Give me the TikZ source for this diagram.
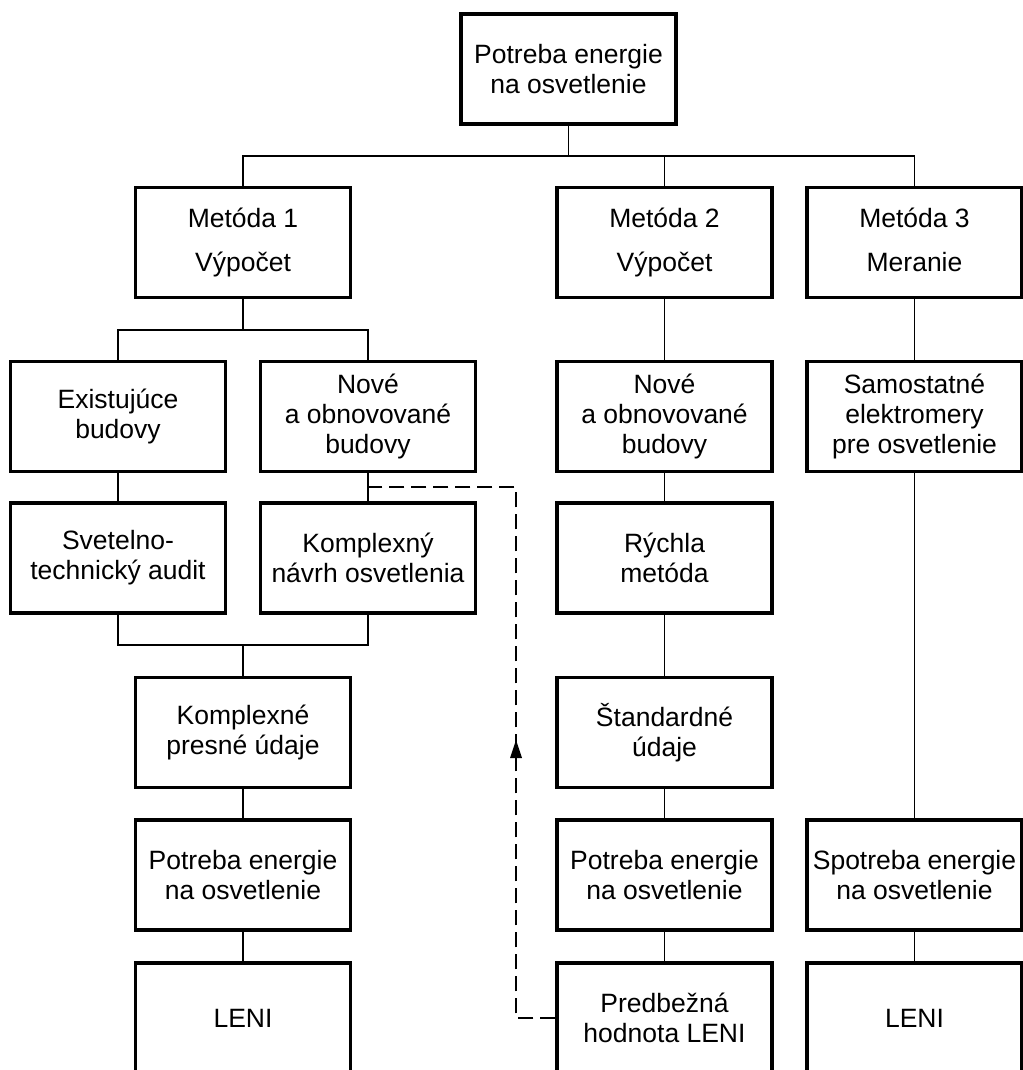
\documentclass[tikz,border=0pt]{standalone}
\usepackage{fontspec}
\setmainfont{Liberation Sans}
\usetikzlibrary{arrows.meta}
\begin{document}
\begin{tikzpicture}[x=1pt,y=-1pt,
  blk/.style={draw, line width=3.2pt, minimum width=215pt, minimum height=110pt,
    inner sep=0pt, align=center, font=\fontsize{26.5}{30}\selectfont},
  conn/.style={line width=1.7pt},
  dconn/.style={line width=1.7pt, dash pattern=on 15pt off 7pt},
]
\useasboundingbox (0,0) rectangle (1022,1070);

\node[blk] (top) at (568.5,69) {Potreba energie\\na osvetlenie};
\node[blk] (m1) at (243,242.5) {Metóda 1\\[14pt]Výpočet};
\node[blk] (m2) at (664.5,242.5) {Metóda 2\\[14pt]Výpočet};
\node[blk] (m3) at (914.5,242.5) {Metóda 3\\[14pt]Meranie\vphantom{Výp}};
\node[blk] (ex) at (118,416.5) {Existujúce\\budovy};
\node[blk] (nv1) at (368,416.5) {Nové\\a obnovované\\budovy};
\node[blk] (nv2) at (664.5,416.5) {Nové\\a obnovované\\budovy};
\node[blk] (sam) at (914.5,416.5) {Samostatné\\elektromery\\pre osvetlenie};
\node[blk] (sv) at (118,558) {Svetelno-\\technický audit};
\node[blk] (kn) at (368,558) {Komplexný\\návrh osvetlenia};
\node[blk] (ry) at (664.5,558) {Rýchla\\metóda};
\node[blk] (kp) at (243,732.5) {Komplexné\\presné údaje};
\node[blk] (st) at (664.5,732.5) {Štandardné\\údaje};
\node[blk] (pe1) at (243,875) {Potreba energie\\na osvetlenie};
\node[blk] (pe2) at (664.5,875) {Potreba energie\\na osvetlenie};
\node[blk] (sp) at (914.5,875) {Spotreba energie\\na osvetlenie};
\node[blk] (l1) at (243,1018) {LENI};
\node[blk] (pl) at (664.5,1018) {Predbežná\\hodnota LENI};
\node[blk] (l3) at (914.5,1018) {LENI};

\coordinate (h1) at (0,156);
\coordinate (h2) at (0,330);
\coordinate (h3) at (0,645);
\coordinate (d1) at (516,1018);
\coordinate (d2) at (516,487);
\coordinate (atip) at (516,740);

\draw[conn] (top.south) -- (top.south |- h1);
\draw[conn] (m1.north) -- (m1.north |- h1) -- (m3.north |- h1) -- (m3.north);
\draw[conn] (m2.north) -- (m2.north |- h1);

\draw[conn] (m1.south) -- (m1.south |- h2);
\draw[conn] (ex.north) -- (ex.north |- h2) -- (nv1.north |- h2) -- (nv1.north);
\draw[conn] (ex) -- (sv);
\draw[conn] (nv1) -- (kn);
\draw[conn] (sv.south) -- (sv.south |- h3) -- (kn.south |- h3) -- (kn.south);
\draw[conn] (kp.north) -- (kp.north |- h3);
\draw[conn] (kp) -- (pe1);
\draw[conn] (pe1) -- (l1);

\draw[conn] (m2) -- (nv2);
\draw[conn] (nv2) -- (ry);
\draw[conn] (ry) -- (st);
\draw[conn] (st) -- (pe2);
\draw[conn] (pe2) -- (pl);

\draw[conn] (m3) -- (sam);
\draw[conn] (sam) -- (sp);
\draw[conn] (sp) -- (l3);

\draw[dconn] (pl.west) -- (pl.west -| d1) -- (d2) -- (d2 -| nv1);
\fill (atip) -- ++(-6,18) -- ++(12,0) -- cycle;
\end{tikzpicture}
\end{document}
